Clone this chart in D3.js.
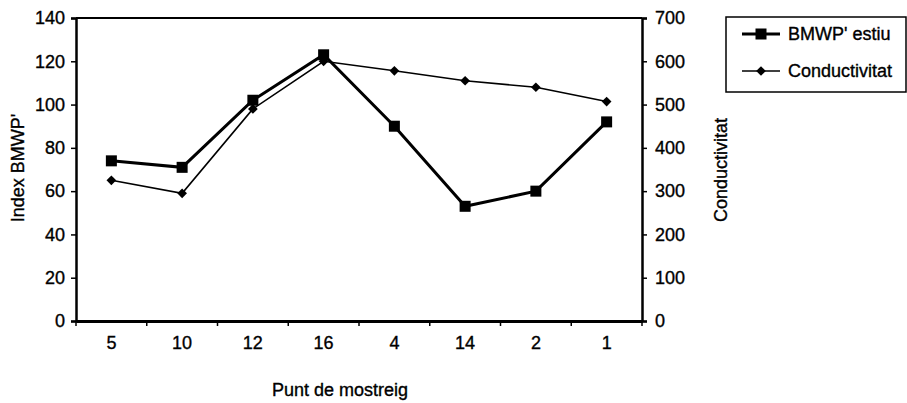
<!DOCTYPE html>
<html><head><meta charset="utf-8">
<script src="https://cdn.jsdelivr.net/npm/d3@7/dist/d3.min.js"></script>
<style>body{margin:0;background:#fff}svg{display:block}
text{fill:#000;stroke:#000;stroke-width:0.35px;font-family:'Liberation Sans', Arial, sans-serif}</style>
</head><body><svg id="c" width="907" height="403"></svg>
<script>
const categories = ["5","10","12","16","4","14","2","1"];
const bmwp = [74, 71, 102, 123, 90, 53, 60, 92];
const conductivitat = [325, 295, 490, 600, 578, 555, 540, 507];
const leftTicks = [0,20,40,60,80,100,120,140];
const rightTicks = [0,100,200,300,400,500,600,700];
const seriesNames = ["BMWP' estiu", "Conductivitat"];

const svg = d3.select("#c");
const FS = 18;
const L = 76, R = 642, T = 18, B = 321;
const x = d3.scaleBand().domain(categories).range([L, R]);
const yL = d3.scaleLinear().domain([0,140]).range([B, T]);
const yR = d3.scaleLinear().domain([0,700]).range([B, T]);

svg.append("line").attr("x1",L).attr("x2",R).attr("y1",T).attr("y2",T).attr("stroke","#000").attr("stroke-width",2);

const ax = svg.append("g").attr("transform",`translate(0,${B})`)
  .call(d3.axisBottom(x).tickSize(0).tickPadding(15));
ax.select(".domain").attr("stroke-width",3);
ax.selectAll("text").attr("font-size",FS);
const sep = d3.range(categories.length+1).map(i => L + i*x.bandwidth());
svg.append("g").selectAll("line").data(sep).join("line")
  .attr("x1",d=>d).attr("x2",d=>d).attr("y1",B).attr("y2",B+5).attr("stroke","#000").attr("stroke-width",1.5);

const al = svg.append("g").attr("transform",`translate(${L},0)`)
  .call(d3.axisLeft(yL).tickValues(leftTicks).tickSize(5).tickPadding(6));
al.select(".domain").attr("stroke-width",2.5);
al.selectAll("text").attr("font-size",FS);
al.selectAll(".tick line").attr("stroke-width",1.5);

const ar = svg.append("g").attr("transform",`translate(${R},0)`)
  .call(d3.axisRight(yR).tickValues(rightTicks).tickSize(5).tickPadding(8));
ar.select(".domain").attr("stroke-width",2.5);
ar.selectAll("text").attr("font-size",FS);
ar.selectAll(".tick line").attr("stroke-width",1.5);

const cx = d => x(d) + x.bandwidth()/2;

svg.append("path").datum(conductivitat.map((v,i)=>[categories[i],v]))
  .attr("fill","none").attr("stroke","#000").attr("stroke-width",1.6)
  .attr("d", d3.line().x(d=>cx(d[0])).y(d=>yR(d[1])));
const diamond = d3.symbol().type(d3.symbolDiamond2).size(60);
svg.append("g").selectAll("path").data(conductivitat).join("path")
  .attr("transform",(d,i)=>`translate(${cx(categories[i])},${yR(d)})`)
  .attr("d", diamond).attr("fill","#000");

svg.append("path").datum(bmwp.map((v,i)=>[categories[i],v]))
  .attr("fill","none").attr("stroke","#000").attr("stroke-width",3)
  .attr("d", d3.line().x(d=>cx(d[0])).y(d=>yL(d[1])));
svg.append("g").selectAll("rect").data(bmwp).join("rect")
  .attr("x",(d,i)=>cx(categories[i])-5.5).attr("y",d=>yL(d)-5.5)
  .attr("width",11).attr("height",11).attr("fill","#000");

svg.append("text").attr("transform","translate(24,168) rotate(-90)").attr("text-anchor","middle")
  .attr("font-size",FS).text("Index BMWP'");
svg.append("text").attr("transform","translate(727,170) rotate(-90)").attr("text-anchor","middle")
  .attr("font-size",FS).text("Conductivitat");
svg.append("text").attr("x",340).attr("y",396).attr("text-anchor","middle")
  .attr("font-size",FS).text("Punt de mostreig");

const lg = svg.append("g");
lg.append("rect").attr("x",726).attr("y",17).attr("width",180).attr("height",75)
  .attr("fill","#fff").attr("stroke","#000").attr("stroke-width",1.5);
[0,1].forEach(i=>{
  const yy = 34 + i*37;
  lg.append("line").attr("x1",742).attr("x2",780).attr("y1",yy).attr("y2",yy)
    .attr("stroke","#000").attr("stroke-width", i===0?3:1.6);
  if(i===0) lg.append("rect").attr("x",755.5).attr("y",yy-5.5).attr("width",11).attr("height",11).attr("fill","#000");
  else lg.append("path").attr("transform",`translate(761,${yy})`).attr("d",diamond).attr("fill","#000");
  lg.append("text").attr("x",788).attr("y",yy+6).attr("font-size",FS).text(seriesNames[i]);
});
</script></body></html>
